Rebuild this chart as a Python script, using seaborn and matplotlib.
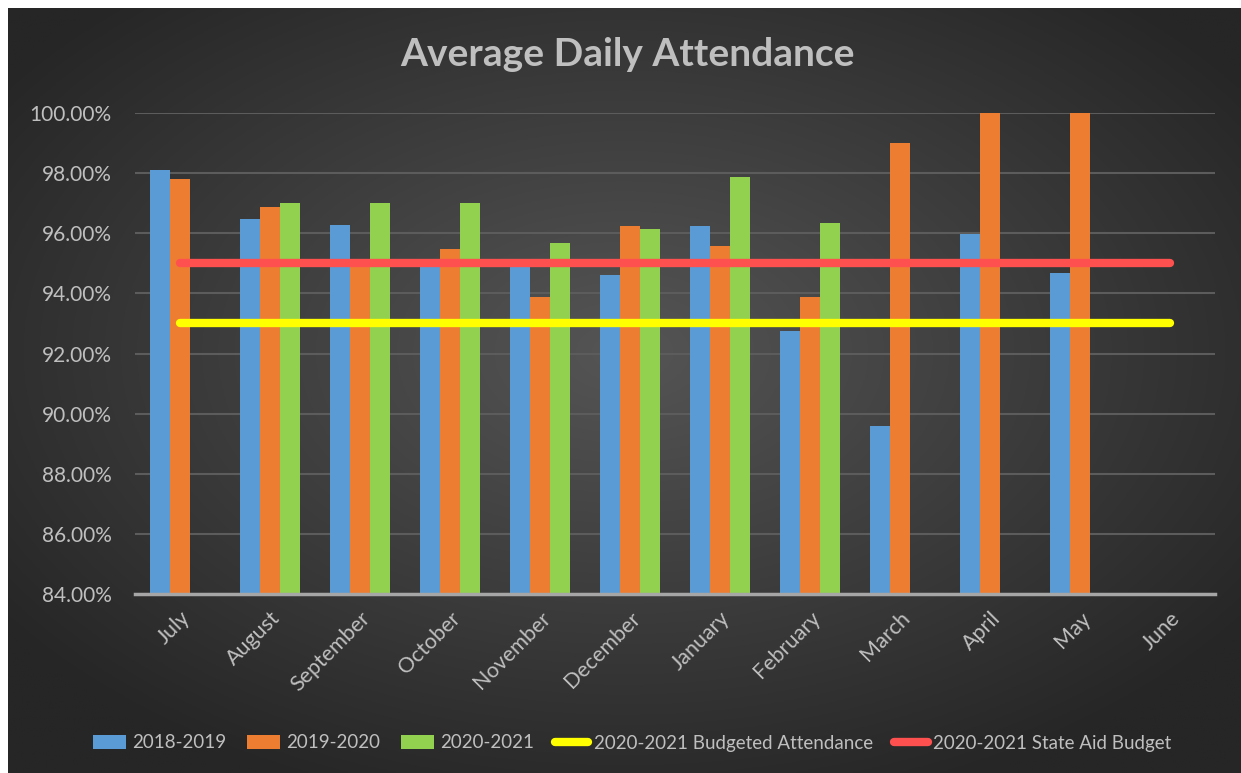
import numpy as np
import pandas as pd
import seaborn as sns
from matplotlib import pyplot as plt
from matplotlib.patches import Patch
from matplotlib.ticker import FuncFormatter


sns.set_theme(style='dark')
plt.rcParams['font.family'] = ['Lato', 'DejaVu Sans']

# Chart data (percent).
months = ['July', 'August', 'September', 'October', 'November', 'December',
          'January', 'February', 'March', 'April', 'May', 'June']
years = ['2018-2019', '2019-2020', '2020-2021']
att_2018 = [98.10, 96.48, 96.29, 94.95, 94.87, 94.61, 96.25, 92.76, 89.59, 95.98, 94.67, np.nan]
att_2019 = [97.81, 96.88, 95.00, 95.49, 93.87, 96.23, 95.58, 93.87, 98.99, 100.0, 100.0, np.nan]
att_2020 = [np.nan, 97.02, 97.02, 97.02, 95.69, 96.13, 97.86, 96.35, np.nan, np.nan, np.nan, np.nan]
budgeted = [93.0, 93.0, 93.0, 93.0, 93.0, 93.0, 93.0, 93.0, 93.0, 93.0, 93.0, 93.0]
state_aid = [95.0, 95.0, 95.0, 95.0, 95.0, 95.0, 95.0, 95.0, 95.0, 95.0, 95.0, 95.0]

colors = {'2018-2019': '#5b9bd5', '2019-2020': '#ed7d31', '2020-2021': '#92d050'}
text_color = '#bfbfbf'

df = pd.DataFrame({
    'month': months * 3,
    'year': [y for y in years for _ in months],
    'value': att_2018 + att_2019 + att_2020,
})

W, H = 1241, 773
fig = plt.figure(figsize=(W / 100, H / 100), dpi=100, facecolor='white')

# Radial gradient background, like the Excel chart area.
bg = fig.add_axes([8 / W, 0, 1 - 8 / W, 1 - 8 / H], zorder=-10)
gy, gx = np.mgrid[0:1:400j, 0:1:640j]
r = np.sqrt(((gx - 0.5) / 0.62) ** 2 + ((gy - 0.45) / 0.62) ** 2)
r = np.clip(r, 0, 1)
shade = 0x55 * (1 - r) + 0x26 * r
bg.imshow(np.dstack([shade, shade, shade]) / 255, aspect='auto', extent=(0, 1, 0, 1))
bg.axis('off')

ax = fig.add_axes([135 / W, 1 - 594 / H, 1080 / W, 481 / H])
ax.set_facecolor('none')

sns.barplot(data=df, x='month', y='value', hue='year', order=months, hue_order=years,
            palette=colors, width=0.667, gap=0, saturation=1, ax=ax, legend=False)
for bar in ax.patches:
    bar.set_edgecolor('none')

xs = np.arange(len(months))
ax.plot(xs, budgeted, color='#ffff00', linewidth=6, solid_capstyle='round',
        label='2020-2021 Budgeted Attendance', zorder=5)
ax.plot(xs, state_aid, color='#ff5050', linewidth=6, solid_capstyle='round',
        label='2020-2021 State Aid Budget', zorder=5)

ax.set_ylim(84, 100)
ax.set_xlim(-0.5, len(months) - 0.5)
ax.set_yticks(np.arange(84, 100.1, 2))
ax.yaxis.set_major_formatter(FuncFormatter(lambda v, p: '{:.2f}%'.format(v)))
ax.grid(axis='y', color='#5c5c5c', linewidth=1.5)
ax.grid(axis='x', visible=False)
ax.set_axisbelow(True)
for side in ['top', 'right', 'left']:
    ax.spines[side].set_visible(False)
ax.spines['bottom'].set_color('#a6a6a6')
ax.spines['bottom'].set_linewidth(2.5)
ax.set_xlabel('')
ax.set_ylabel('')
ax.tick_params(axis='y', length=0, pad=17, labelsize=15, labelcolor=text_color)
ax.tick_params(axis='x', length=0, pad=10, labelsize=15.5, labelcolor=text_color)
for lab in ax.get_xticklabels():
    lab.set_rotation(45)
    lab.set_ha('right')
    lab.set_rotation_mode('anchor')

fig.text(627 / W, 1 - 55 / H, 'Average Daily Attendance', ha='center', va='center',
         fontsize=28, fontweight='bold', color=text_color)

# Legend: bar swatches plus the two reference lines.
handles = [Patch(facecolor=colors[y], edgecolor='none') for y in years]
line_h, line_l = ax.get_legend_handles_labels()
fig.legend(handles + line_h, years + line_l, loc='center', ncol=5,
           bbox_to_anchor=(632 / W, 1 - 743 / H), frameon=False,
           fontsize=13.5, labelcolor=text_color, handlelength=1.8,
           handleheight=0.8, handletextpad=0.3, columnspacing=1.1)

fig.savefig('out.png', dpi=100, facecolor=fig.get_facecolor())
